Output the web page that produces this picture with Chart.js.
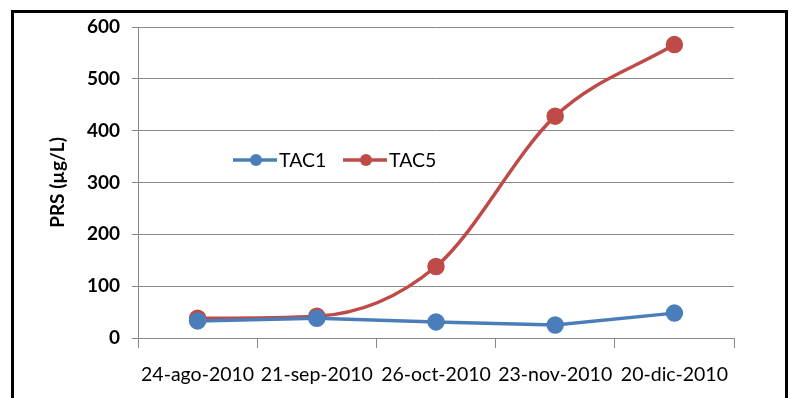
<!DOCTYPE html>
<html>
<head>
<meta charset="utf-8">
<script src="https://cdn.jsdelivr.net/npm/chart.js@4"></script>
<style>
  html, body { margin: 0; padding: 0; background: #fff; }
  #wrap { position: relative; width: 789px; height: 398px; }
</style>
</head>
<body>
<div id="wrap"><canvas id="chart" width="789" height="398"></canvas></div>
<script>
const fechas = ['24-ago-2010', '21-sep-2010', '26-oct-2010', '23-nov-2010', '20-dic-2010'];
const tac1 = [33, 38, 31, 25, 48];
const tac5 = [38, 42, 138, 428, 566];
const yTicks = [0, 100, 200, 300, 400, 500, 600];

const AZUL = '#4a7ebb';
const ROJO = '#be4b48';
const GRIS = '#888888';
const FUENTE = 'Lato, "Open Sans", sans-serif';

// frame around the whole figure plus a legend sitting inside the plot
const marco = {
  id: 'marco',
  afterDraw(chart) {
    const ctx = chart.ctx;
    ctx.save();
    ctx.strokeStyle = '#000';
    ctx.lineWidth = 3;
    ctx.strokeRect(12.5, 11.5, 774, 400);

    const ds = chart.data.datasets;
    const items = [
      { x: 233, color: ds[0].borderColor, label: ds[0].label },
      { x: 343, color: ds[1].borderColor, label: ds[1].label },
    ];
    const y = 160;
    ctx.font = '19.5px ' + FUENTE;
    ctx.textBaseline = 'middle';
    items.forEach(it => {
      ctx.strokeStyle = it.color;
      ctx.lineWidth = 3.5;
      ctx.beginPath();
      ctx.moveTo(it.x, y);
      ctx.lineTo(it.x + 44, y);
      ctx.stroke();
      ctx.fillStyle = it.color;
      ctx.beginPath();
      ctx.arc(it.x + 23, y, 6, 0, Math.PI * 2);
      ctx.fill();
      ctx.fillStyle = '#000';
      ctx.fillText(it.label, it.x + 46, y + 1);
    });
    ctx.restore();
  }
};

new Chart(document.getElementById('chart'), {
  type: 'line',
  data: {
    labels: fechas,
    datasets: [
      {
        label: 'TAC1',
        data: tac1,
        borderColor: AZUL,
        backgroundColor: AZUL,
        borderWidth: 3.5,
        pointRadius: 7,
        pointHoverRadius: 7,
        tension: 0,
      },
      {
        label: 'TAC5',
        data: tac5,
        borderColor: ROJO,
        backgroundColor: ROJO,
        borderWidth: 3.5,
        pointRadius: 7,
        pointHoverRadius: 7,
        cubicInterpolationMode: 'monotone',
      },
    ],
  },
  options: {
    responsive: false,
    animation: false,
    layout: { padding: { top: 27, right: 55, left: 40, bottom: 0 } },
    plugins: {
      legend: { display: false },
      tooltip: { enabled: false },
    },
    scales: {
      x: {
        offset: true,
        grid: {
          offset: true,
          drawOnChartArea: false,
          drawTicks: true,
          tickLength: 10,
          color: GRIS,
        },
        border: { color: GRIS, width: 1 },
        ticks: {
          color: '#000',
          padding: 15,
          maxRotation: 0,
          font: { family: FUENTE, size: 19.5 },
        },
        afterFit(scale) { scale.height = 60; },
      },
      y: {
        min: 0,
        max: 600,
        afterBuildTicks(scale) { scale.ticks = yTicks.map(v => ({ value: v })); },
        grid: { color: GRIS, tickLength: 6, lineWidth: 1 },
        border: { color: GRIS, width: 1 },
        ticks: {
          color: '#000',
          padding: 12,
          font: { family: FUENTE, size: 19, weight: 'bold' },
        },
        title: {
          display: true,
          text: 'PRS (µg/L)',
          color: '#000',
          padding: { top: 6, bottom: 0 },
          font: { family: FUENTE, size: 19, weight: 'bold' },
        },
        afterFit(scale) { scale.width = 98; },
      },
    },
  },
  plugins: [marco],
});
</script>
</body>
</html>
